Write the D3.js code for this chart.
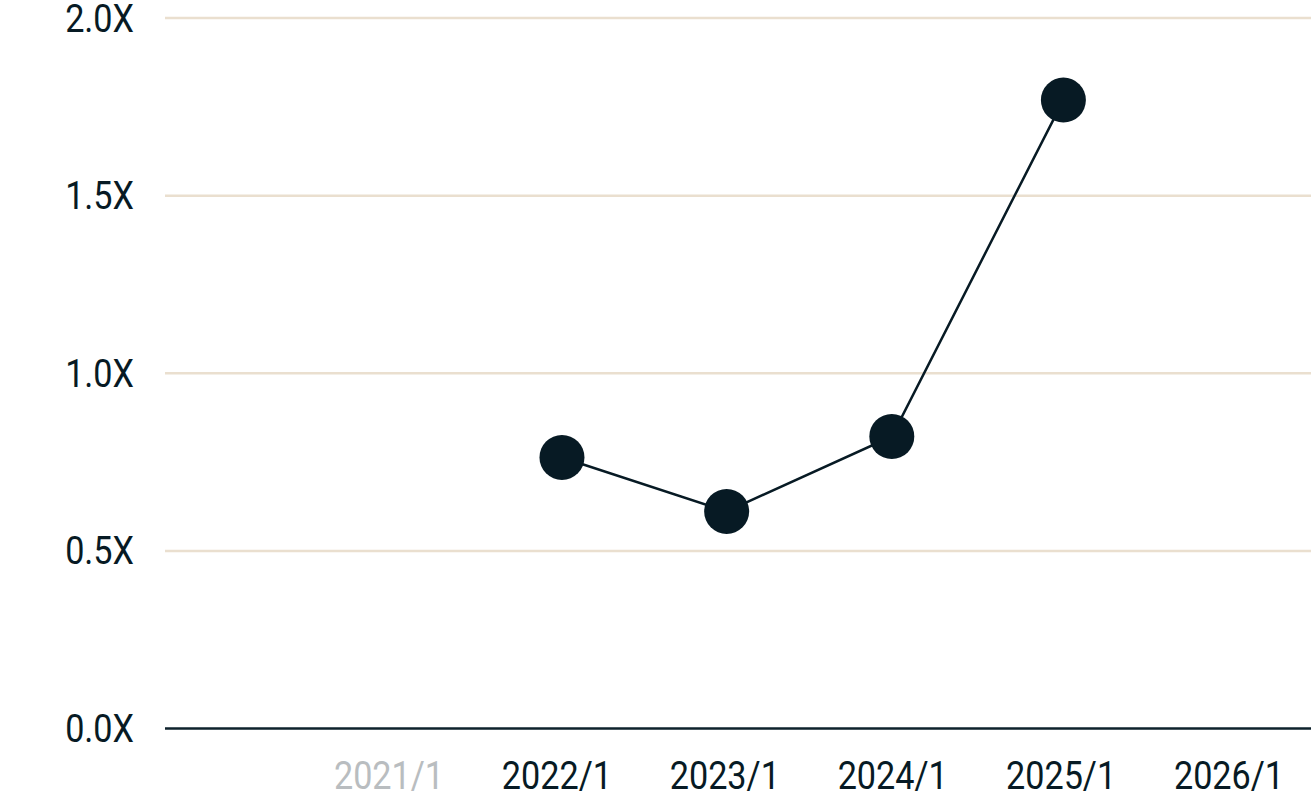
<!DOCTYPE html>
<html>
<head>
<meta charset="utf-8">
<script src="https://cdn.jsdelivr.net/npm/d3@7"></script>
<style>
  html, body { margin: 0; padding: 0; background: #fff; }
  text { font-family: Roboto, "Noto Sans", sans-serif; }
</style>
</head>
<body>
<svg id="chart"></svg>
<script>
const width = 1311;
const height = 801;

// data
const dates = ['2022-01-12', '2023-01-05', '2023-12-30', '2025-01-06'];
const multiples = [0.763, 0.611, 0.822, 1.769];
const yTicks = [0, 0.5, 1.0, 1.5, 2.0];
const xTickLabels = ['2021/1', '2022/1', '2023/1', '2024/1', '2025/1', '2026/1'];
const mutedLabels = ['2021/1'];

const parse = d3.timeParse('%Y-%m-%d');
const points = dates.map((d, i) => ({date: parse(d), value: multiples[i]}));
const tickDates = xTickLabels.map(s => d3.timeParse('%Y/%m')(s));

const left = 165;
const ink = '#071a24';
const squeeze = 0.9; // labels are a narrow face

const x = d3.scaleTime()
    .domain([tickDates[0], tickDates[tickDates.length - 1]])
    .range([389, 1229]);

const y = d3.scaleLinear()
    .domain([0, 2])
    .range([728.5, 18]);

const svg = d3.select('#chart')
    .attr('width', width)
    .attr('height', height);

// grid lines
svg.append('g')
  .selectAll('line')
  .data(yTicks)
  .join('line')
    .attr('x1', left)
    .attr('x2', width)
    .attr('y1', d => y(d))
    .attr('y2', d => y(d))
    .attr('stroke', d => d === 0 ? '#0e222c' : '#eadfcf')
    .attr('stroke-width', 2.5);

// y labels
svg.append('g')
  .selectAll('text')
  .data(yTicks)
  .join('text')
    .attr('transform', d => `translate(134, ${y(d) + 13.5}) scale(${squeeze}, 1)`)
    .attr('text-anchor', 'end')
    .attr('fill', ink)
    .style('font-size', '38px')
    .text(d => d3.format('.1f')(d) + 'X');

// x labels
svg.append('g')
  .selectAll('text')
  .data(tickDates)
  .join('text')
    .attr('transform', d => `translate(${x(d)}, 789) scale(${squeeze}, 1)`)
    .attr('text-anchor', 'middle')
    .attr('fill', (d, i) => mutedLabels.includes(xTickLabels[i]) ? '#b9bdc0' : ink)
    .style('font-size', '38px')
    .text((d, i) => xTickLabels[i]);

// line
const line = d3.line()
    .x(d => x(d.date))
    .y(d => y(d.value));

svg.append('path')
    .datum(points)
    .attr('d', line)
    .attr('fill', 'none')
    .attr('stroke', ink)
    .attr('stroke-width', 2.5);

svg.append('g')
  .selectAll('circle')
  .data(points)
  .join('circle')
    .attr('cx', d => x(d.date))
    .attr('cy', d => y(d.value))
    .attr('r', 22.5)
    .attr('fill', ink);
</script>
</body>
</html>
